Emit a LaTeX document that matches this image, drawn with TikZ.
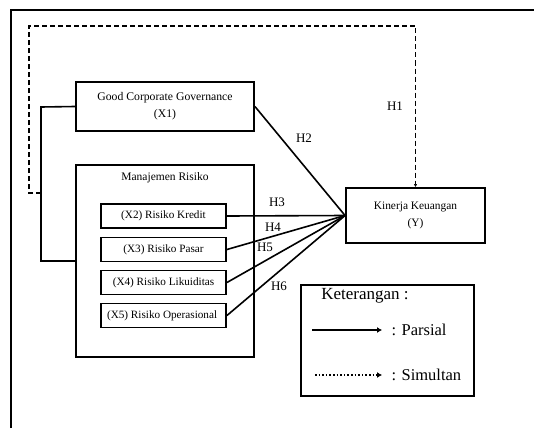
\documentclass[tikz,border=0pt]{standalone}
\usepackage{fontspec}
\setmainfont{Liberation Serif}
\usetikzlibrary{arrows.meta}

\tikzset{
	kotak/.style={draw,line width=1.9pt,inner sep=0pt,align=center},
	garis/.style={line width=1.6pt},
	putus/.style={line width=1.8pt,dash pattern=on 5pt off 3pt},
	hlabel/.style={font=\fontsize{13}{15}\selectfont}
}

\begin{document}
\begin{tikzpicture}[x=1pt,y=-1pt]
		\useasboundingbox (0,0) rectangle (534,428);
		% bingkai luar
		\draw[line width=1.5pt] (11,428) -- (11,10) -- (534,10);
		% variabel independen
		\node[kotak,minimum width=178pt,minimum height=49pt,font=\fontsize{11.7}{17}\selectfont] (gcg) at (165,106.5) {Good Corporate Governance\\(X1)};
		\node[kotak,minimum width=178pt,minimum height=192pt] (mr) at (165,261) {};
		\node[font=\fontsize{11.5}{13}\selectfont] (mrjudul) at (165,178) {Manajemen Risiko};
		\foreach \n/\y/\t in
		{
		x2/216/{(X2) Risiko Kredit},
		x3/249.5/{(X3) Risiko Pasar},
		x4/282.5/{(X4) Risiko Likuiditas},
		x5/315.5/{(X5) Risiko Operasional}
		}
		\node[kotak,minimum width=125pt,minimum height=24pt,font=\fontsize{11.2}{13}\selectfont] (\n) at (163.5,\y) {\t};
		% variabel dependen
		\node[kotak,minimum width=139pt,minimum height=55pt,font=\fontsize{11.4}{17}\selectfont] (kin) at (415.5,215.5) {Kinerja Keuangan\\(Y)};
		% pengaruh parsial
		\draw[garis] (gcg.east) -- (kin.west);
		\foreach \n in {x2,x3,x4,x5}
		\draw[garis] (\n.east) -- (kin.west);
		% pengaruh simultan
		\coordinate (kiri) at (41,107);
		\coordinate (bawah) at (41,261);
		\coordinate (cab) at (41,193);
		\draw[garis] (gcg.west) -- (kiri) -- (bawah) -- (mr.west);
		\draw[putus,-{Latex[length=3pt,width=3.5pt]}] (cab) -- (29,193) -- (29,26) -- (415.5,26) -- (kin.north);
		% label hipotesis
		\foreach \n/\x/\y in
		{
		H1/395/106,
		H2/304/138,
		H3/277/202,
		H4/273/227,
		H5/265/247,
		H6/279/286
		}
		\node[hlabel] (\n) at (\x,\y) {\n};
		% keterangan
		\node[draw,line width=1.9pt,minimum width=173pt,minimum height=111pt] (ket) at (387.5,340.5) {};
		\node[font=\fontsize{17}{20}\selectfont] (ketjudul) at (365,296) {Keterangan :};
		\coordinate (pa) at (312,330);
		\coordinate (pb) at (382,330);
		\coordinate (sa) at (315,375);
		\coordinate (sb) at (382,375);
		\draw[garis,-{Latex[length=5pt,width=6pt]}] (pa) -- (pb);
		\draw[garis,dotted,-{Latex[length=5pt,width=6pt]}] (sa) -- (sb);
		\node[anchor=west,font=\fontsize{16.5}{20}\selectfont] (parsial) at (388,330) {: Parsial};
		\node[anchor=west,font=\fontsize{16.5}{20}\selectfont] (simultan) at (388,375) {: Simultan};
	\end{tikzpicture}
\end{document}
